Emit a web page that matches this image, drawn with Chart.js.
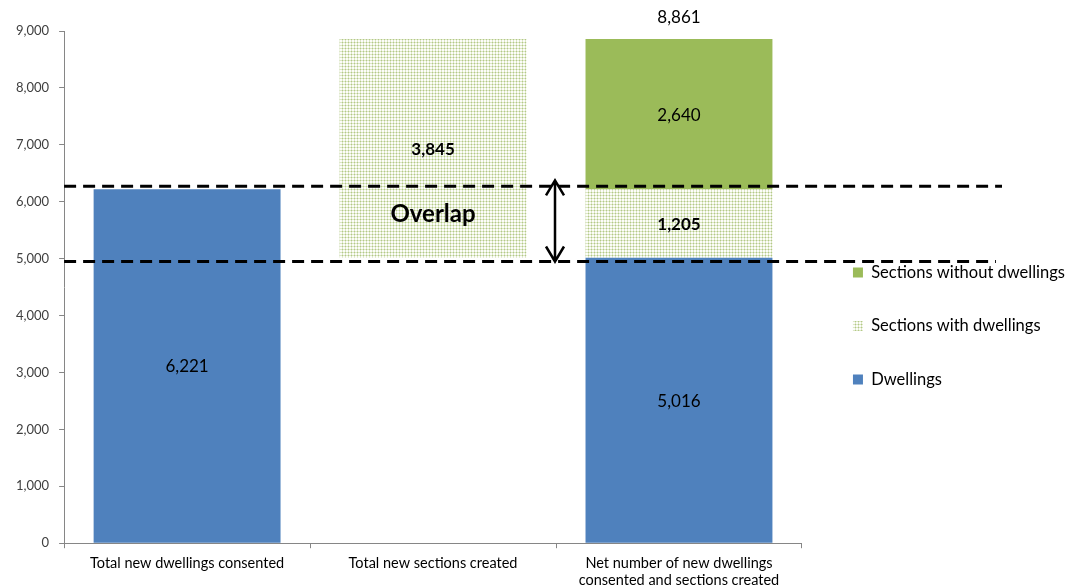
<!DOCTYPE html>
<html>
<head>
<meta charset="utf-8">
<script src="https://cdn.jsdelivr.net/npm/chart.js@4.4.1/dist/chart.umd.min.js"></script>
<style>
  html, body { margin: 0; padding: 0; background: #fff; }
  #wrap { width: 1075px; height: 588px; }
</style>
</head>
<body>
<div id="wrap"><canvas id="chart" width="1075" height="588"></canvas></div>
<script>
const categories = [
  'Total new dwellings consented',
  'Total new sections created',
  ['Net number of new dwellings', 'consented and sections created']
];
const dwellings = [6221, null, 5016];
const sectionsWithDwellings = [null, 3845, 1205];
const sectionsWithoutDwellings = [null, null, 2640];
// invisible base so the sections bar floats above the dwellings level
const sectionsOffset = [null, 5016, null];
const netTotal = [null, null, 8861];
// the two dashed lines around the overlap band
const overlapLines = [6270, 4950];
const yMax = 9000;
const yStep = 1000;

const FONT = 'Lato, "Open Sans", sans-serif';
const fmt = v => v.toLocaleString('en-US');

function dotPattern() {
  const c = document.createElement('canvas');
  c.width = 3; c.height = 3;
  const g = c.getContext('2d');
  g.fillStyle = '#fcfdf9';
  g.fillRect(0, 0, 3, 3);
  g.fillStyle = '#dce6c6';
  g.fillRect(0, 0, 3, 1);
  g.fillRect(0, 0, 1, 3);
  g.fillStyle = '#b3c986';
  g.fillRect(0, 0, 1, 1);
  return g.createPattern(c, 'repeat');
}

const annotate = {
  id: 'annotate',
  afterDatasetsDraw(chart) {
    const ctx = chart.ctx;
    const xs = chart.scales.x, ys = chart.scales.y;
    ctx.save();
    ctx.textAlign = 'center';
    ctx.textBaseline = 'middle';
    ctx.fillStyle = '#000';

    // value labels inside the bars
    chart.data.datasets.forEach((ds, i) => {
      if (ds.noLabel) return;
      chart.getDatasetMeta(i).data.forEach((bar, j) => {
        const v = ds.data[j];
        if (v == null) return;
        ctx.font = (ds.boldLabel ? 'bold ' : '') + '17px ' + FONT;
        ctx.fillText(fmt(v), bar.x, (bar.y + bar.base) / 2 + 1);
      });
    });

    // total on top of the net bar
    ctx.font = '17px ' + FONT;
    netTotal.forEach((v, j) => {
      if (v == null) return;
      ctx.fillText(fmt(v), xs.getPixelForValue(j), ys.getPixelForValue(v) - 21);
    });

    // dashed lines
    ctx.strokeStyle = '#000';
    ctx.lineWidth = 3;
    ctx.setLineDash([12, 7]);
    const lineEnd = [chart.width - 73, chart.width - 79];
    overlapLines.forEach((v, k) => {
      const py = ys.getPixelForValue(v);
      ctx.beginPath();
      ctx.moveTo(chart.chartArea.left, py);
      ctx.lineTo(lineEnd[k], py);
      ctx.stroke();
    });
    ctx.setLineDash([]);

    // double arrow between bar 2 and bar 3
    const ax = (xs.getPixelForValue(1) + xs.getPixelForValue(2)) / 2 - 1;
    const top = ys.getPixelForValue(overlapLines[0]) - 6;
    const bot = ys.getPixelForValue(overlapLines[1]);
    ctx.lineWidth = 2.5;
    ctx.beginPath();
    ctx.moveTo(ax, top); ctx.lineTo(ax, bot);
    ctx.moveTo(ax - 9, top + 15); ctx.lineTo(ax, top); ctx.lineTo(ax + 9, top + 15);
    ctx.moveTo(ax - 9, bot - 15); ctx.lineTo(ax, bot); ctx.lineTo(ax + 9, bot - 15);
    ctx.stroke();

    // overlap caption
    ctx.font = 'bold 24px ' + FONT;
    const midY = (ys.getPixelForValue(overlapLines[0]) + ys.getPixelForValue(overlapLines[1])) / 2;
    ctx.fillText('Overlap', xs.getPixelForValue(1), midY - 10);
    ctx.restore();
  }
};

const ctx = document.getElementById('chart').getContext('2d');
new Chart(ctx, {
  type: 'bar',
  data: {
    labels: categories,
    datasets: [{
      label: 'offset',
      data: sectionsOffset,
      backgroundColor: 'rgba(0,0,0,0)',
      noLabel: true
    }, {
      label: 'Dwellings',
      data: dwellings,
      backgroundColor: '#4f81bd'
    }, {
      label: 'Sections with dwellings',
      data: sectionsWithDwellings,
      backgroundColor: dotPattern(),
      boldLabel: true
    }, {
      label: 'Sections without dwellings',
      data: sectionsWithoutDwellings,
      backgroundColor: '#9bbb59'
    }]
  },
  options: {
    responsive: false,
    animation: false,
    datasets: { bar: { categoryPercentage: 1, barPercentage: 0.76 } },
    layout: { padding: { top: 31, left: 6, right: 0, bottom: -7 } },
    scales: {
      x: {
        stacked: true,
        grid: { offset: true, drawOnChartArea: false, tickLength: 5, color: '#868686' },
        border: { color: '#868686' },
        ticks: { font: { family: FONT, size: 14.5, lineHeight: 1.2 }, color: '#000', padding: 6 }
      },
      y: {
        stacked: true,
        min: 0,
        max: yMax,
        ticks: { stepSize: yStep, callback: v => fmt(v), font: { family: FONT, size: 13 }, color: '#404040', padding: 10 },
        grid: { drawOnChartArea: false, tickLength: 5, color: '#868686' },
        border: { color: '#868686' }
      },
      gap: {
        position: 'right',
        display: true,
        grid: { display: false },
        border: { display: false },
        ticks: { display: false },
        afterFit(s) { s.width = 14; }
      }
    },
    plugins: {
      tooltip: { enabled: false },
      legend: {
        position: 'right',
        reverse: true,
        maxWidth: 300,
        title: { display: true, text: ' ', padding: 7, font: { size: 10 } },
        labels: {
          filter: item => item.text !== 'offset',
          boxWidth: 10,
          boxHeight: 10,
          padding: 37,
          color: '#000',
          font: { family: FONT, size: 16.5 }
        }
      }
    }
  },
  plugins: [annotate]
});
</script>
</body>
</html>
